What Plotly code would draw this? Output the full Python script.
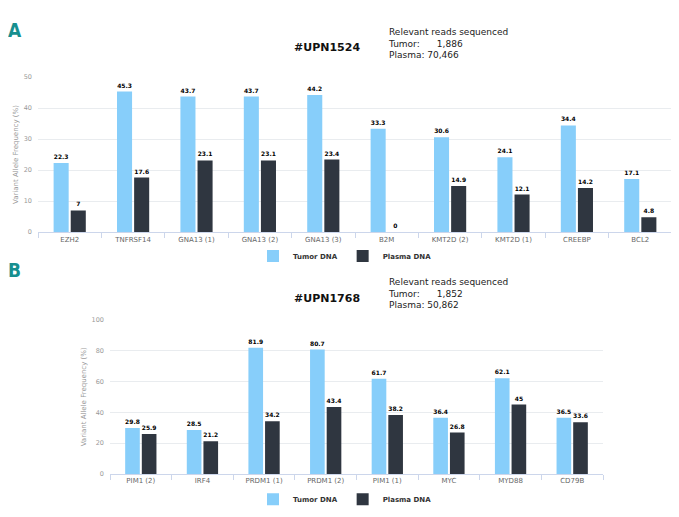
import plotly.graph_objects as go

W, H = 679, 517
OFF = 8  # page body margin in the browser
FW, FH = W - OFF, H - OFF

# ---- data ----
genes_a = ["EZH2", "TNFRSF14", "GNA13 (1)", "GNA13 (2)", "GNA13 (3)", "B2M",
           "KMT2D (2)", "KMT2D (1)", "CREEBP", "BCL2"]
tumor_a = [22.3, 45.3, 43.7, 43.7, 44.2, 33.3, 30.6, 24.1, 34.4, 17.1]
plasma_a = [7, 17.6, 23.1, 23.1, 23.4, 0, 14.9, 12.1, 14.2, 4.8]

genes_b = ["PIM1 (2)", "IRF4", "PRDM1 (1)", "PRDM1 (2)", "PIM1 (1)", "MYC", "MYD88", "CD79B"]
tumor_b = [29.8, 28.5, 81.9, 80.7, 61.7, 36.4, 62.1, 36.5]
plasma_b = [25.9, 21.2, 34.2, 43.4, 38.2, 26.8, 45, 33.6]

title_a = "#UPN1524"
title_b = "#UPN1768"
reads_a = ("1,886", "70,466")
reads_b = ("1,852", "50,862")

TUMOR_C = "#87cefa"
PLASMA_C = "#2f3640"
FONT = "DejaVu Sans, Verdana, sans-serif"


def fmt(v):
    return str(v)


def px_x(p):
    return (p - OFF) / FW


def px_y(p):
    return 1 - (p - OFF) / FH


fig = go.Figure()

for name, vals, col, xa, ya, cats, leg in [
    ("Tumor DNA", tumor_a, TUMOR_C, "x", "y", genes_a, "legend"),
    ("Plasma DNA", plasma_a, PLASMA_C, "x", "y", genes_a, "legend"),
    ("Tumor DNA", tumor_b, TUMOR_C, "x2", "y2", genes_b, "legend2"),
    ("Plasma DNA", plasma_b, PLASMA_C, "x2", "y2", genes_b, "legend2"),
]:
    fig.add_trace(go.Bar(
        x=cats, y=vals, name=name, marker=dict(color=col, line=dict(width=0)),
        text=[fmt(v) for v in vals], textposition="outside",
        outsidetextfont=dict(family=FONT, size=6, color="#000000", weight="bold"),
        constraintext="none", cliponaxis=False,
        xaxis=xa, yaxis=ya, legend=leg, hoverinfo="x+y+name",
    ))

xcommon = dict(type="category", showline=True, linecolor="#ccd6eb", linewidth=1,
               ticks="outside", tickson="boundaries", ticklen=5, tickcolor="#ccd6eb",
               tickfont=dict(family=FONT, size=7, color="#666666"), showgrid=False,
               zeroline=False, fixedrange=True)
ycommon = dict(gridcolor="#e9ecef", gridwidth=1, zeroline=False, showline=False,
               tickfont=dict(family=FONT, size=6.5, color="#999999"),
               ticklabelstandoff=5, fixedrange=True)

fig.update_layout(
    width=FW, height=FH, autosize=False,
    margin=dict(l=0, r=0, t=0, b=0),
    paper_bgcolor="white", plot_bgcolor="white",
    barmode="group", bargap=0.46, bargroupgap=0.12,
    xaxis=dict(domain=[px_x(38), px_x(672)], anchor="y", **xcommon),
    yaxis=dict(domain=[px_y(231.7), px_y(74)], anchor="x", range=[0, 50], dtick=10,
               title=dict(text="Variant Allele Frequency (%)", standoff=4,
                          font=dict(family=FONT, size=7, color="#999999")),
               **ycommon),
    xaxis2=dict(domain=[px_x(110), px_x(603)], anchor="y2", **xcommon),
    yaxis2=dict(domain=[px_y(477.3), px_y(320.7)], anchor="x2", range=[0, 100], dtick=20,
                title=dict(text="Variant Allele Frequency (%)", standoff=4,
                           font=dict(family=FONT, size=7, color="#999999")),
                **ycommon),
    legend=dict(orientation="h", x=px_x(345), xanchor="center", y=px_y(256), yanchor="middle",
                font=dict(family=FONT, size=7, color="#333333", weight="bold"),
                bgcolor="rgba(0,0,0,0)", itemwidth=30, tracegroupgap=0),
    legend2=dict(orientation="h", x=px_x(345), xanchor="center", y=px_y(503), yanchor="middle",
                 font=dict(family=FONT, size=7, color="#333333", weight="bold"),
                 bgcolor="rgba(0,0,0,0)", itemwidth=30, tracegroupgap=0),
)

LETTER_FONT = "Liberation Sans Narrow, DejaVu Sans Condensed, Roboto Condensed, Arial Narrow, sans-serif"
annotations = []
for letter, ly in [("A", 26), ("B", 270)]:
    annotations.append(dict(text="<b>" + letter + "</b>", x=px_x(6), y=px_y(ly), xref="paper", yref="paper",
                            xanchor="left", yanchor="middle", showarrow=False,
                            font=dict(family=LETTER_FONT, size=19, color="#178f8f")))
for t, ty in [(title_a, 44), (title_b, 299)]:
    annotations.append(dict(text="<b>" + t + "</b>", x=px_x(327), y=px_y(ty), xref="paper", yref="paper",
                            xanchor="center", yanchor="middle", showarrow=False,
                            font=dict(family=FONT, size=11, color="#111111")))
for (tum, pla), ry in [(reads_a, 40), (reads_b, 294)]:
    txt = ("Relevant reads sequenced<br>Tumor:&nbsp;&nbsp;&nbsp;&nbsp;&nbsp;&nbsp;" + tum +
           "<br>Plasma: " + pla)
    annotations.append(dict(text=txt, x=px_x(386), y=px_y(ry), xref="paper", yref="paper",
                            xanchor="left", yanchor="middle", align="left", showarrow=False,
                            font=dict(family=FONT, size=9, color="#222222")))
fig.update_layout(annotations=annotations)

fig.write_html("out.html")
